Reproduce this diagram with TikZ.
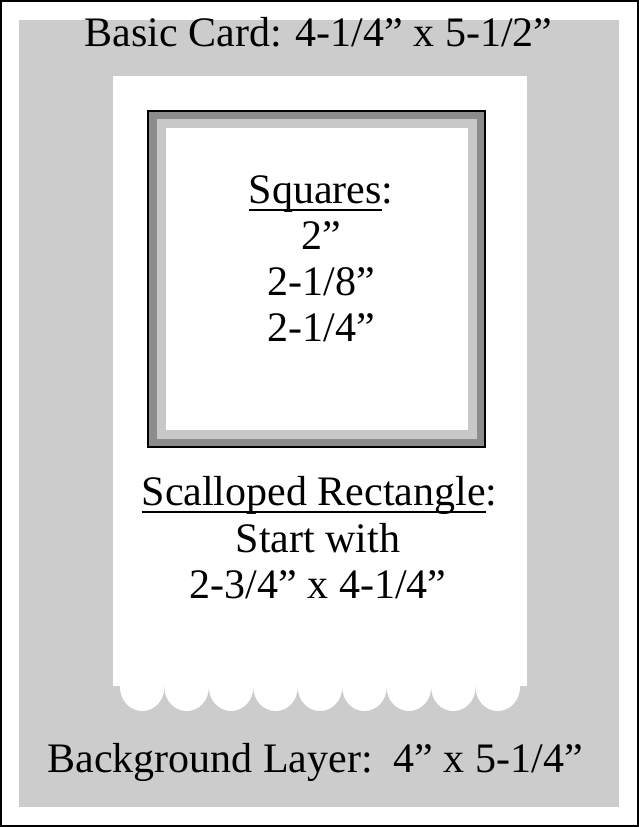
\documentclass[tikz,border=0pt]{standalone}
\usepackage{fontspec}
\setmainfont{Liberation Serif}
\definecolor{bggray}{HTML}{CCCCCC}
\definecolor{darkband}{HTML}{8C8C8C}
\definecolor{lightband}{HTML}{C8C8C8}
\newcommand\myul[1]{\setbox0=\hbox{#1}\rlap{\rule[-8pt]{\wd0}{1.6pt}}\box0}
\begin{document}
\begin{tikzpicture}[x=1pt,y=-1pt,
  txt/.style={inner sep=0pt, anchor=base, font=\fontsize{42}{46}\selectfont}]
\path[use as bounding box] (0,0) rectangle (639,827);
\fill[white] (0,0) rectangle (639,827);
\draw[line width=2pt] (1,1) rectangle (638,826);
% background layer
\fill[bggray] (19,20) rectangle (619,807);
% scalloped rectangle
\fill[white] (113,76) rectangle (527,686);
\foreach \k in {0,...,8}
  \fill[white] ({120+44.444*(\k+0.5)},687) ellipse [x radius=22.22, y radius=24];
% squares
\fill[black] (147,110) rectangle (486,448);
\fill[darkband] (149,112) rectangle (484,446);
\fill[lightband] (157,119) rectangle (477,439);
\fill[white] (166,128) rectangle (468,430);
% texts
\node[txt] (card) at (318.5,46) {Basic Card: 4-1/4” x 5-1/2”};
\node[txt] (sq) at (321,203) {\myul{Squares}:};
\node[txt] (sq1) at (321,249) {2”};
\node[txt] (sq2) at (321,295) {2-1/8”};
\node[txt] (sq3) at (321,341) {2-1/4”};
\node[txt] (sc) at (319.5,505) {\myul{Scalloped Rectangle}:};
\node[txt] (sc1) at (318,552) {Start with};
\node[txt] (sc2) at (318,598) {2-3/4” x 4-1/4”};
\node[txt] (bg) at (315,772) {Background Layer:\ \ 4” x 5-1/4”};
\end{tikzpicture}
\end{document}
